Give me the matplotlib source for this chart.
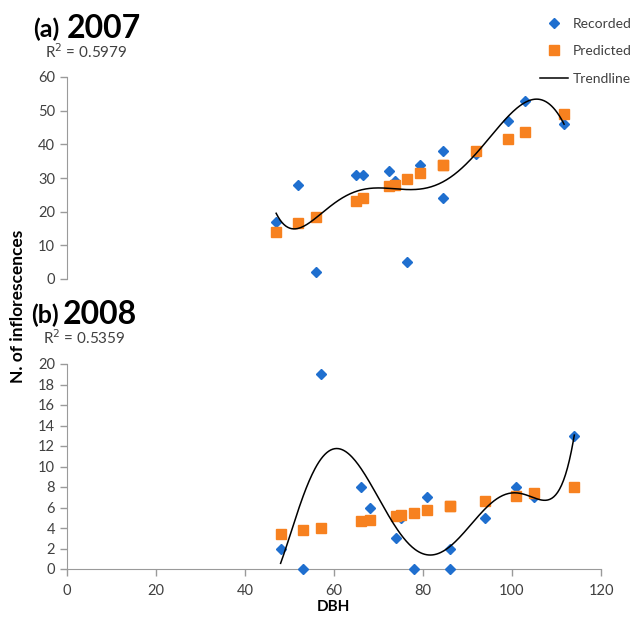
import numpy as np
import matplotlib
matplotlib.use("Agg")
import matplotlib.pyplot as plt
from matplotlib.lines import Line2D

plt.rcParams['font.family'] = ['Lato', 'DejaVu Sans']

# 2007 data (DBH, recorded and predicted inflorescences)
dbh_2007 = [47, 52, 56, 65, 66.6, 72.4, 73.6, 76.5, 79.3, 84.4, 84.4, 92, 99, 103, 111.7]
rec_2007 = [17, 28, 2, 31, 31, 32, 29, 5, 34, 38, 24, 37, 47, 53, 46]
pred_2007 = [14, 16.5, 18.5, 23.2, 24.2, 27.7, 28, 29.7, 31.4, 34, 34, 38, 41.7, 43.8, 48.9]

# 2008 data
dbh_2008 = [48, 53, 57, 66, 68, 74, 75, 78, 81, 86, 86, 94, 101, 105, 114]
rec_2008 = [2, 0, 19, 8, 6, 3, 5, 0, 7, 0, 2, 5, 8, 7, 13]
pred_2008 = [3.4, 3.8, 4.0, 4.7, 4.8, 5.2, 5.3, 5.5, 5.8, 6.1, 6.1, 6.6, 7.1, 7.4, 8.0]

BLUE = '#1f6fcf'
ORANGE = '#f7811f'
GREY = '#9a9a9a'
TXT = '#404040'

W, H = 630, 621
fig = plt.figure(figsize=(W / 100, H / 100), dpi=100)


def fx(px):
    return px / W


def fy(py):
    return 1 - py / H


def trend(x, y, deg=6):
    # polynomial trendline of the recorded values (order 6)
    c = np.polyfit(x, y, deg)
    xs = np.linspace(min(x), max(x), 300)
    return xs, np.polyval(c, xs)


def style(ax, show_x):
    for s in ['top', 'right']:
        ax.spines[s].set_visible(False)
    ax.spines['left'].set_color(GREY)
    ax.spines['bottom'].set_color(GREY)
    ax.tick_params(colors=GREY, labelcolor=TXT, labelsize=10.5, length=5, width=1)
    ax.tick_params(axis='x', pad=6)
    ax.set_xlim(0, 120)
    if not show_x:
        ax.spines['bottom'].set_visible(False)
        ax.tick_params(axis='x', bottom=False, labelbottom=False)


ax1 = fig.add_axes([fx(67), fy(279), fx(534), (279 - 77) / H])
ax2 = fig.add_axes([fx(67), fy(569), fx(534), (569 - 364) / H])

for ax, x, rec, pred, ylim, step in [
        (ax1, dbh_2007, rec_2007, pred_2007, 60, 10),
        (ax2, dbh_2008, rec_2008, pred_2008, 20, 2)]:
    ax.plot(x, rec, 'D', color=BLUE, ms=5, mec=BLUE, clip_on=False, zorder=3)
    ax.plot(x, pred, 's', color=ORANGE, ms=7, mec=ORANGE, clip_on=False, zorder=4)
    xs, ys = trend(x, rec)
    ax.plot(xs, ys, color='black', lw=1.1, zorder=5)
    ax.set_ylim(0, ylim)
    ax.set_yticks(np.arange(0, ylim + 1, step))

style(ax1, False)
style(ax2, True)
ax2.set_xticks(np.arange(0, 121, 20))

fig.text(fx(333), fy(607), 'DBH', fontsize=11, fontweight='bold', ha='center', va='center')
fig.text(fx(18.5), fy(306), 'N. of inflorescences', rotation=90, fontsize=12.5,
         fontweight='bold', ha='center', va='center')

fig.text(fx(33), fy(37), '(a)', fontsize=18, fontweight='bold')
fig.text(fx(67), fy(38), '2007', fontsize=23, fontweight='bold')
fig.text(fx(45), fy(58), 'R$^2$ = 0.5979', fontsize=11, color=TXT)
fig.text(fx(31), fy(323), '(b)', fontsize=18, fontweight='bold')
fig.text(fx(63), fy(324), '2008', fontsize=23, fontweight='bold')
fig.text(fx(43), fy(344), 'R$^2$ = 0.5359', fontsize=11, color=TXT)

handles = [Line2D([], [], ls='none', marker='D', color=BLUE, ms=5),
           Line2D([], [], ls='none', marker='s', color=ORANGE, ms=7),
           Line2D([], [], color='black', lw=1.1)]
fig.legend(handles, ['Recorded', 'Predicted', 'Trendline'], loc='upper left',
           bbox_to_anchor=(fx(540), fy(18)), frameon=False, fontsize=10,
           labelcolor=TXT, borderpad=0, borderaxespad=0, labelspacing=1.1,
           handlelength=2.0, handletextpad=0.35)

fig.savefig('out.png', dpi=100)
